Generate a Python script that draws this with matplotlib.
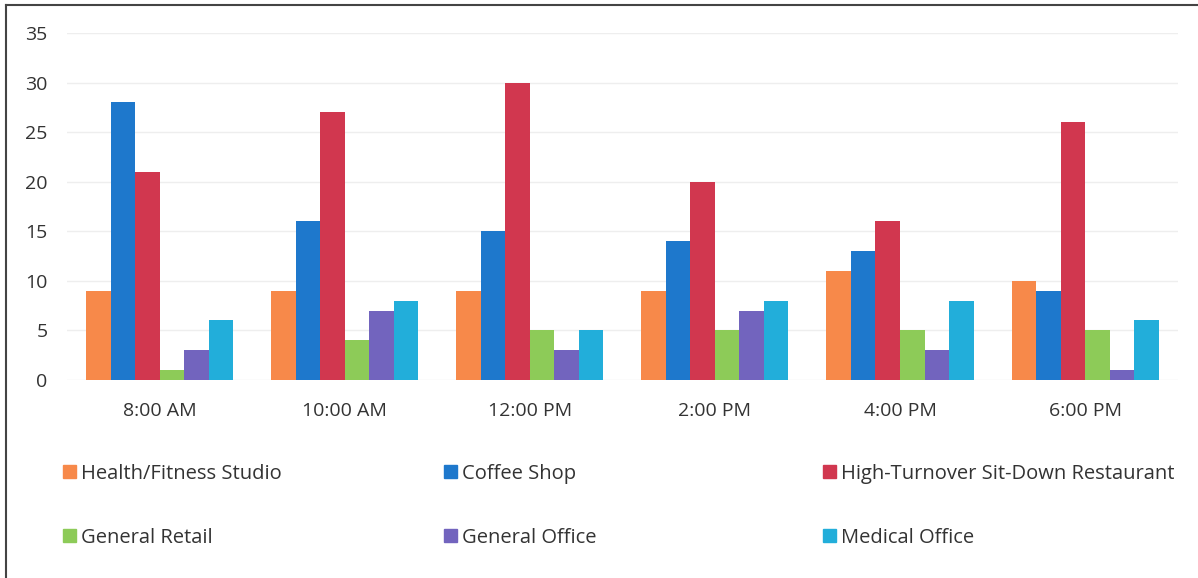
import matplotlib.pyplot as plt
import numpy as np
from matplotlib.lines import Line2D

times = ["8:00 AM", "10:00 AM", "12:00 PM", "2:00 PM", "4:00 PM", "6:00 PM"]

health = [9, 9, 9, 9, 11, 10]
coffee = [28, 16, 15, 14, 13, 9]
restaurant = [21, 27, 30, 20, 16, 26]
retail = [1, 4, 5, 5, 5, 5]
office = [3, 7, 3, 7, 3, 1]
medical = [6, 8, 5, 8, 8, 6]

series_names = ["Health/Fitness Studio", "Coffee Shop", "High-Turnover Sit-Down Restaurant",
                "General Retail", "General Office", "Medical Office"]
colors = ["#F7894A", "#1E78CC", "#D1374F", "#8DCB58", "#7264BE", "#22AEDA"]

plt.rcParams['font.family'] = ['Open Sans', 'DejaVu Sans']

fig = plt.figure(figsize=(11.98, 5.78), dpi=100)
ax = fig.add_axes([0.056, 0.3426, 0.927, 0.6004])

all_series = [health, coffee, restaurant, retail, office, medical]
x = np.arange(len(times))
w = 0.1325
for i, vals in enumerate(all_series):
    ax.bar(x + (i - 2.5) * w, vals, width=w, color=colors[i], label=series_names[i], zorder=2)

ax.set_xlim(-0.5, len(times) - 0.5)
ax.set_ylim(0, 35)
ax.set_yticks(range(0, 36, 5))
ax.set_xticks(x)
ax.set_xticklabels(times)
ax.tick_params(axis='both', length=0, labelsize=14, colors='#333333')
ax.tick_params(axis='x', pad=16)
ax.tick_params(axis='y', pad=14)
ax.grid(axis='y', color='#EEEEEE', linewidth=1, zorder=0)
for s in ax.spines.values():
    s.set_visible(False)

# legend in three columns laid out like the original
handles = [plt.Rectangle((0, 0), 1, 1, color=c) for c in colors]
col_x = [0.046, 0.364, 0.680]
for c in range(3):
    idx = [c, c + 3]
    leg = fig.legend([handles[i] for i in idx], [series_names[i] for i in idx],
                     loc='upper left', bbox_to_anchor=(col_x[c], 0.212),
                     frameon=False, fontsize=14.5, handlelength=0.65, handleheight=0.65,
                     handletextpad=0.25, labelspacing=2.2, borderaxespad=0)
    for t in leg.get_texts():
        t.set_color('#333333')

# outer chart frame (left and top edges)
fig.add_artist(Line2D([0.005, 0.005], [0, 0.991], transform=fig.transFigure, color='#444444', lw=1.5))
fig.add_artist(Line2D([0.005, 1.0], [0.991, 0.991], transform=fig.transFigure, color='#444444', lw=1.5))

fig.savefig("out.png", dpi=100)
